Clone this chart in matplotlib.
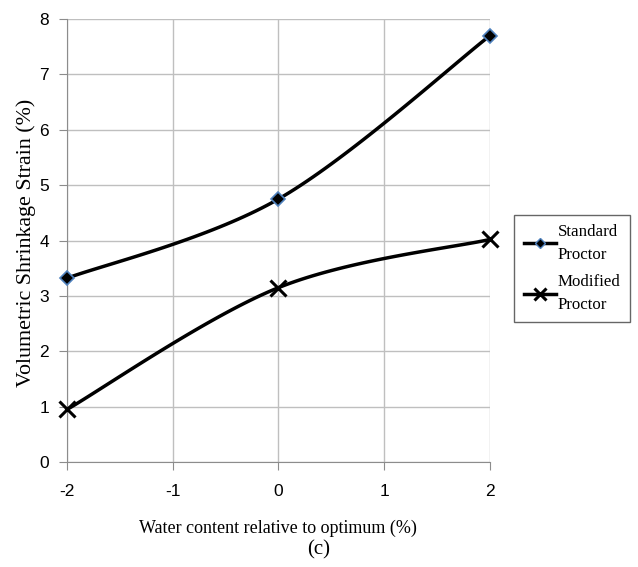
import numpy as np
import matplotlib.pyplot as plt
from matplotlib.lines import Line2D

plt.rcParams['axes.unicode_minus'] = False

# Data
water_content = [-2, 0, 2]
standard_proctor = [3.32, 4.75, 7.7]
modified_proctor = [0.95, 3.15, 4.02]
x_ticks = [-2, -1, 0, 1, 2]
y_ticks = [0, 1, 2, 3, 4, 5, 6, 7, 8]


def smooth(xs, ys, n=40):
    # Excel-style smoothed line: Catmull-Rom converted to cubic Bezier
    p = np.column_stack([xs, ys]).astype(float)
    ext = np.vstack([p[0], p, p[-1]])
    out = []
    t = np.linspace(0, 1, n)[:, None]
    for i in range(len(p) - 1):
        b0 = ext[i + 1]
        b3 = ext[i + 2]
        b1 = b0 + (ext[i + 2] - ext[i]) / 6
        b2 = b3 - (ext[i + 3] - ext[i + 1]) / 6
        seg = ((1 - t) ** 3 * b0 + 3 * (1 - t) ** 2 * t * b1
               + 3 * (1 - t) * t ** 2 * b2 + t ** 3 * b3)
        out.append(seg)
    c = np.vstack(out)
    return c[:, 0], c[:, 1]


fig = plt.figure(figsize=(6.38, 5.67), dpi=100)
ax = fig.add_axes([0.105, 0.185, 0.663, 0.7815])

grid_col = '#bfbfbf'
ax.set_xlim(-2, 2)
ax.set_ylim(0, 8)
ax.set_xticks(x_ticks)
ax.set_yticks(y_ticks)
ax.grid(True, color=grid_col, linewidth=1)
ax.set_axisbelow(True)
for s in ['top', 'right']:
    ax.spines[s].set_visible(False)
for s in ['left', 'bottom']:
    ax.spines[s].set_color('#8c8c8c')
ax.tick_params(direction='out', length=6, color='#8c8c8c', labelsize=12.5)
ax.tick_params(axis='x', pad=10)
ax.tick_params(axis='y', pad=7)
for lab in ax.get_xticklabels() + ax.get_yticklabels():
    lab.set_family('Liberation Sans')

sx, sy = smooth(water_content, standard_proctor)
mx, my = smooth(water_content, modified_proctor)
ax.plot(sx, sy, color='black', linewidth=2.5, clip_on=False, zorder=3)
ax.plot(mx, my, color='black', linewidth=2.5, clip_on=False, zorder=3)
ax.plot(water_content, standard_proctor, linestyle='none', marker='D', markersize=7,
        markerfacecolor='black', markeredgecolor='#4f81bd', markeredgewidth=1.2,
        clip_on=False, zorder=4)
ax.plot(water_content, modified_proctor, linestyle='none', marker='x', markersize=11,
        markeredgecolor='black', markeredgewidth=2.2, clip_on=False, zorder=4)

fig.text(0.436, 0.069, 'Water content relative to optimum (%)', ha='center', va='center',
         family='Liberation Serif', fontsize=13)
fig.text(0.041, 0.571, 'Volumetric Shrinkage Strain (%)', ha='center', va='center',
         rotation=90, family='Liberation Serif', fontsize=15.8)
fig.text(0.5, 0.03, '(c)', ha='center', va='center', family='Liberation Serif',
         fontsize=15)

handles = [
    Line2D([], [], color='black', linewidth=2.5, marker='D', markersize=5,
           markerfacecolor='black', markeredgecolor='#4f81bd'),
    Line2D([], [], color='black', linewidth=2.5, marker='x', markersize=8,
           markeredgewidth=2.2),
]
leg = fig.legend(handles, ['Standard\nProctor', 'Modified\nProctor'],
                 loc='center left', bbox_to_anchor=(0.806, 0.5265),
                 prop={'family': 'Liberation Serif', 'size': 12.2},
                 frameon=True, fancybox=False, handlelength=1.9,
                 handletextpad=0.1, borderpad=0.55, labelspacing=0.7,
                 borderaxespad=0)
leg.get_frame().set_edgecolor('#404040')
leg.get_frame().set_linewidth(1)
for txt in leg.get_texts():
    txt.set_linespacing(1.55)

plt.savefig('out.png', dpi=100)
